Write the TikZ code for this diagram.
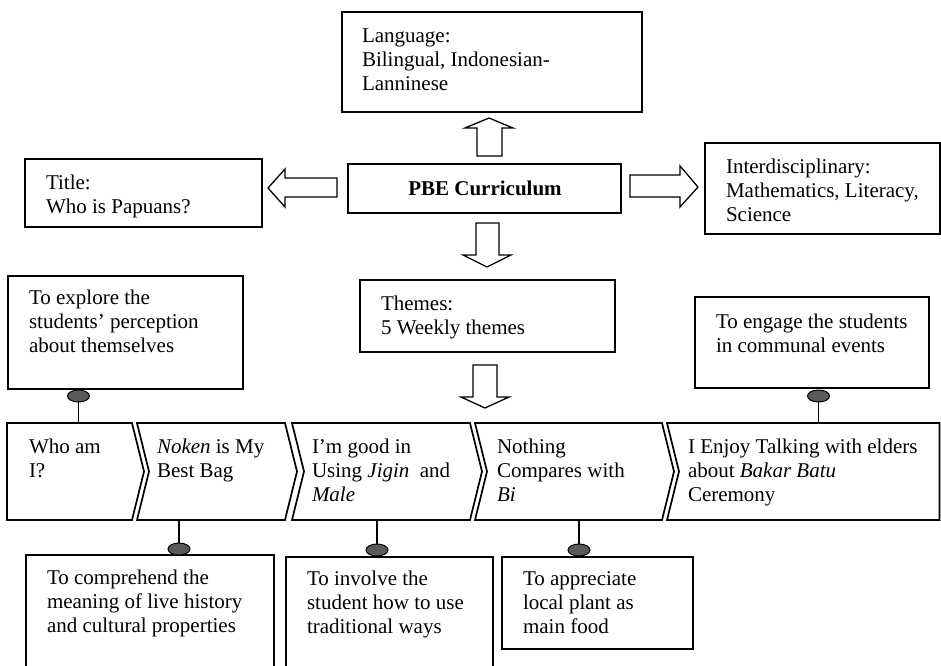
\documentclass[tikz,border=0pt]{standalone}
\usepackage{fontspec}
\setmainfont{Liberation Serif}
\usetikzlibrary{shapes.geometric}
\definecolor{dotgray}{HTML}{5A5A5A}
\newcommand\fs{\fontsize{21}{24}\selectfont}
\newcommand\lines[1]{\begin{tabular}[t]{@{}l@{}}#1\end{tabular}}
\begin{document}
\begin{tikzpicture}[x=1pt,y=-1pt,
  box/.style={draw, line width=1.7pt, inner sep=0pt, outer sep=0pt, anchor=north west, fill=white},
  txt/.style={anchor=base west, inner sep=0pt, outer sep=0pt, font=\fs},
  chev/.style={draw, line width=1.7pt, line join=miter},
  barrow/.style={draw, line width=1.3pt, fill=white, line join=miter},
  dotn/.style={ellipse, draw, line width=1pt, fill=dotgray, minimum width=22pt, minimum height=12pt, inner sep=0pt, outer sep=0pt},
  conn/.style={draw, line width=1.5pt}]
\useasboundingbox (0,0) rectangle (941,665);
\clip (0,0) rectangle (941,665);

% boxes
\node[box, minimum width=300pt, minimum height=100pt] (lang) at (342,12) {};
\node[box, minimum width=273pt, minimum height=49pt] (pbe) at (348,164) {};
\node[box, minimum width=237pt, minimum height=68pt] (title) at (25,159) {};
\node[box, minimum width=235pt, minimum height=91pt] (inter) at (705,143) {};
\node[box, minimum width=255pt, minimum height=72pt] (themes) at (360,280) {};
\node[box, minimum width=235pt, minimum height=113pt] (explore) at (8,276) {};
\node[box, minimum width=234pt, minimum height=91pt] (engage) at (695,297) {};
\node[box, minimum width=248pt, minimum height=145pt] (comp) at (26,555) {};
\node[box, minimum width=207pt, minimum height=143pt] (inv) at (286,557) {};
\node[box, minimum width=191pt, minimum height=92pt] (app) at (502,557) {};

% texts
\node[txt] (langt) at (362,42) {\lines{Language:\\Bilingual, Indonesian-\\Lanninese}};
\node[txt, anchor=base] (pbet) at (485,195) {\bfseries PBE Curriculum};
\node[txt] (titlet) at (46,189) {\lines{Title:\\Who is Papuans?}};
\node[txt] (intert) at (726,173) {\lines{Interdisciplinary:\\Mathematics,\ Literacy,\\Science}};
\node[txt] (themest) at (381,310) {\lines{Themes:\\5 Weekly themes}};
\node[txt] (exploret) at (29,304) {\lines{To explore the\\students’ perception\\about themselves}};
\node[txt] (engaget) at (716,328) {\lines{To engage the students\\in communal events}};
\node[txt] (compt) at (47,584) {\lines{To comprehend the\\meaning of live history\\and cultural properties}};
\node[txt] (invt) at (307,585) {\lines{To involve the\\student how to use\\traditional ways}};
\node[txt] (appt) at (523,585) {\lines{To appreciate\\local plant as\\main food}};

% block arrows
\draw[barrow] (477,156) -- (477,128) -- (465,128) -- (489,118) -- (513,128) -- (502,128) -- (502,156) -- cycle;
\draw[barrow] (476,223) -- (499,223) -- (499,255) -- (511,255) -- (487,267) -- (463,255) -- (476,255) -- cycle;
\draw[barrow] (473,365) -- (497,365) -- (497,397) -- (509,397) -- (485,408) -- (461,397) -- (473,397) -- cycle;
\draw[barrow] (337,178) -- (285,178) -- (285,169) -- (268,188) -- (285,207) -- (285,197) -- (337,197) -- cycle;
\draw[barrow] (630,175) -- (680,175) -- (680,166) -- (698,187) -- (680,207) -- (680,197) -- (630,197) -- cycle;

% chevrons
\draw[chev] (7,423) -- (132,423) -- (144,471.5) -- (132,520) -- (7,520) -- cycle;
\draw[chev] (137,423) -- (285,423) -- (297,471.5) -- (285,520) -- (137,520) -- (149,471.5) -- cycle;
\draw[chev] (292,423) -- (470,423) -- (482,471.5) -- (470,520) -- (292,520) -- (304,471.5) -- cycle;
\draw[chev] (475,423) -- (662,423) -- (674,471.5) -- (662,520) -- (475,520) -- (487,471.5) -- cycle;
\draw[chev] (667,423) -- (939.5,423) -- (939.5,520) -- (667,520) -- (679,471.5) -- cycle;

\node[txt] (ch1t) at (29,453) {\lines{Who am\\I?}};
\node[txt] (ch2t) at (157,453) {\lines{\textit{Noken} is My\\Best Bag}};
\node[txt] (ch3t) at (312,453) {\lines{I’m good in\\Using \textit{Jigin}\ \ and\\\textit{Male}}};
\node[txt] (ch4t) at (497,453) {\lines{Nothing\\Compares with\\\textit{Bi}}};
\node[txt] (ch5t) at (688,453) {\lines{I Enjoy Talking with elders\\about \textit{Bakar Batu}\\Ceremony}};

% attachment points on chevrons
\coordinate (ch1top) at (78.5,423);
\coordinate (ch5top) at (818.5,423);
\coordinate (ch2bot) at (179,520);
\coordinate (ch3bot) at (377,520);
\coordinate (ch4bot) at (579,520);

% dots
\node[dotn] (d1) at (78.5,396) {};
\node[dotn] (d5) at (818.5,396) {};
\node[dotn] (d2) at (179,549) {};
\node[dotn] (d3) at (377,550) {};
\node[dotn] (d4) at (579,550) {};

% connectors
\draw[conn] (d1.south) -- (ch1top);
\draw[conn] (d5.south) -- (ch5top);
\draw[conn] (ch2bot) -- (d2.north);
\draw[conn] (ch3bot) -- (d3.north);
\draw[conn] (ch4bot) -- (d4.north);
\end{tikzpicture}
\end{document}
